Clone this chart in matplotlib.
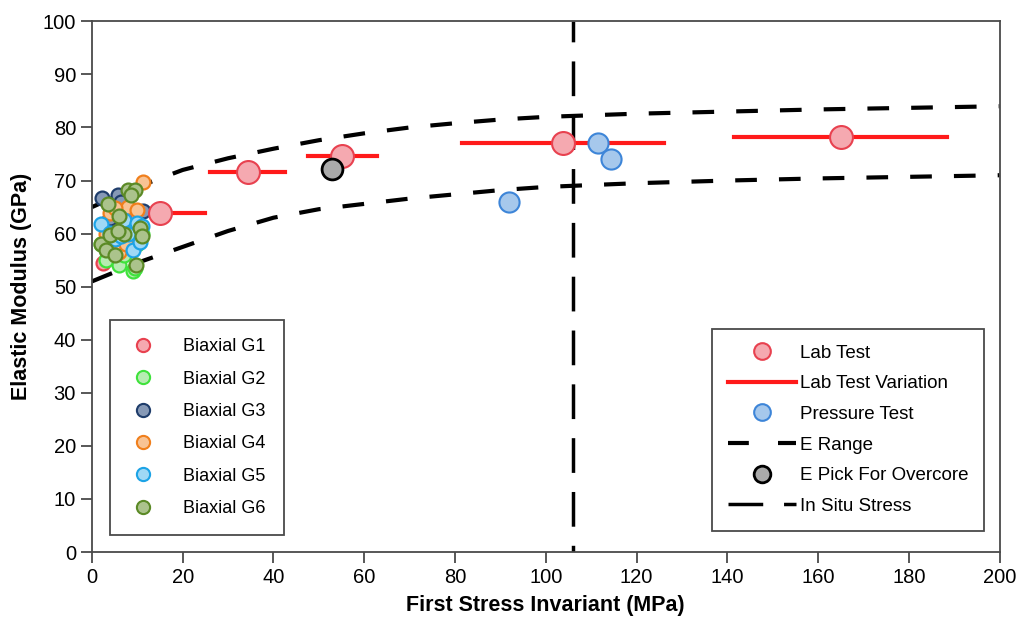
import numpy as np
import matplotlib
matplotlib.use("Agg")
import matplotlib.pyplot as plt
from matplotlib.lines import Line2D

plt.rcParams['font.family'] = ['Liberation Sans', 'DejaVu Sans']

# biaxial test groups (first stress invariant MPa, modulus GPa)
g1_x = [3, 5, 7, 9, 4, 8, 10, 6, 2.5]
g1_y = [62, 61, 63, 60, 58, 57, 61, 55, 54.5]
g2_x = [3, 6, 9, 4, 10, 7, 2, 11, 8, 5, 9.5]
g2_y = [55, 54, 53, 59, 58, 56, 58, 60, 59.5, 57, 53.5]
g3_x = [2.2, 5.7, 11.2, 4, 7, 6.5]
g3_y = [66.8, 67.2, 64.2, 63, 62, 66]
g4_x = [11.2, 4, 8, 10, 3, 6, 9.5, 5, 7.5]
g4_y = [69.8, 63.8, 65, 64.5, 60, 56.5, 61, 64.8, 58]
g5_x = [2, 7, 10, 5, 9, 8, 11, 4, 6.5, 10.5]
g5_y = [61.8, 62.5, 62, 59, 57, 60, 61.5, 60.2, 59.5, 58.5]
g6_x = [3.5, 8, 9.5, 8.5, 6, 10.5, 2, 3, 7, 9.6, 11, 4, 5, 5.8]
g6_y = [65.5, 68.3, 68.2, 67.3, 63.3, 61, 58, 57, 60, 54, 59.6, 59.8, 56, 60.5]

# lab tests with variation ranges
lab_x = [15, 34.3, 55, 103.7, 165]
lab_y = [63.8, 71.7, 74.6, 77.1, 78.3]
lab_lo = [5, 26, 47.6, 81.5, 141.5]
lab_hi = [25, 42.5, 62.8, 126, 188.5]

# pressure tests
pres_x = [92, 111.5, 114.3]
pres_y = [66, 77.1, 74.1]

# E pick
pick_x = [53]
pick_y = [72.1]

# E range envelopes
env_x = [0, 10, 20, 30, 40, 50, 60, 70, 80, 90, 100, 120, 140, 160, 180, 200]
env_hi = [65, 68.8, 72, 74.2, 76, 77.6, 78.9, 80, 80.8, 81.5, 82, 82.6, 83, 83.4, 83.7, 84]
env_lo = [51, 54.5, 57.5, 60.5, 63, 64.6, 65.6, 66.6, 67.4, 68.2, 68.8, 69.5, 70, 70.4, 70.7, 71]

insitu_x = 106

groups = [
    ("Biaxial G1", g1_x, g1_y, "#f5a9b0", "#e8414f"),
    ("Biaxial G2", g2_x, g2_y, "#b7ecb2", "#3fe23c"),
    ("Biaxial G3", g3_x, g3_y, "#8699b6", "#1f3d6b"),
    ("Biaxial G4", g4_x, g4_y, "#f8c394", "#f07f1c"),
    ("Biaxial G5", g5_x, g5_y, "#9fd8f5", "#1ca3e6"),
    ("Biaxial G6", g6_x, g6_y, "#abc38c", "#5b8a26"),
]

fig = plt.figure(figsize=(10.22, 6.28), dpi=100)
ax = fig.add_axes([0.09, 0.121, 0.888, 0.845])

dash = (0, (5.2, 5.3))
ax.plot(env_x, env_hi, color='black', lw=3, linestyle=dash, zorder=2)
ax.plot(env_x, env_lo, color='black', lw=3, linestyle=dash, zorder=2)
# in situ stress line drawn top-down so the dash pattern starts at the top
ax.plot([insitu_x, insitu_x], [100, 0], color='black', lw=2.5,
        linestyle=(4, (10, 5.5)), zorder=2)

for lo, hi, y in zip(lab_lo, lab_hi, lab_y):
    ax.plot([lo, hi], [y, y], color='#ff1a1a', lw=3, zorder=3)

for name, xs, ys, fc, ec in groups:
    ax.plot(xs, ys, 'o', ms=10, mfc=fc, mec=ec, mew=1.6, zorder=4)

ax.plot(lab_x, lab_y, 'o', ms=16.5, mfc='#f5a9b0', mec='#e8414f', mew=1.5, zorder=5)
ax.plot(pres_x, pres_y, 'o', ms=14.5, mfc='#a6c8ec', mec='#3d85d8', mew=1.5, zorder=5)
ax.plot(pick_x, pick_y, 'o', ms=15, mfc='#aaaaaa', mec='black', mew=2, zorder=5)

ax.set_xlim(0, 200)
ax.set_ylim(0, 100)
ax.set_xticks(np.arange(0, 201, 20))
ax.set_yticks(np.arange(0, 101, 10))
for s in ax.spines.values():
    s.set_color('#4a4a4a')
    s.set_linewidth(1.3)
ax.tick_params(labelsize=14.5, length=8, width=1.3, colors='#4a4a4a', labelcolor='black')
ax.set_xlabel('First Stress Invariant (MPa)', fontsize=15.5, fontweight='bold', labelpad=6)
ax.set_ylabel('Elastic Modulus (GPa)', fontsize=15.5, fontweight='bold', labelpad=8)

h1 = [Line2D([], [], ls='none', marker='o', ms=9.5, mfc=fc, mec=ec, mew=1.5)
      for name, xs, ys, fc, ec in groups]
leg1 = ax.legend(h1, [g[0] for g in groups], loc='lower left',
                 bbox_to_anchor=(0.02, 0.032), fontsize=13, frameon=True,
                 fancybox=False, edgecolor='#4a4a4a', framealpha=1,
                 handletextpad=1.45, labelspacing=0.85, borderpad=1.0,
                 handlelength=1.6, borderaxespad=0)
leg1.get_frame().set_linewidth(1.3)
ax.add_artist(leg1)

h2 = [
    Line2D([], [], ls='none', marker='o', ms=12, mfc='#f5a9b0', mec='#e8414f', mew=1.5),
    Line2D([], [], color='#ff1a1a', lw=3),
    Line2D([], [], ls='none', marker='o', ms=12, mfc='#a6c8ec', mec='#3d85d8', mew=1.5),
    Line2D([], [], color='black', lw=3, linestyle=(0, (5, 7))),
    Line2D([], [], ls='none', marker='o', ms=12, mfc='#aaaaaa', mec='black', mew=2),
    Line2D([], [], color='black', lw=2.5, linestyle=(0, (10, 6))),
]
l2 = ['Lab Test', 'Lab Test Variation', 'Pressure Test', 'E Range',
      'E Pick For Overcore', 'In Situ Stress']
leg2 = ax.legend(h2, l2, loc='lower right', bbox_to_anchor=(0.983, 0.04),
                 fontsize=13.5, frameon=True, fancybox=False, edgecolor='#4a4a4a',
                 framealpha=1, handlelength=3.6, handletextpad=0.2,
                 labelspacing=0.72, borderpad=0.85, borderaxespad=0)
leg2.get_frame().set_linewidth(1.3)

fig.savefig('out.png', dpi=100)
